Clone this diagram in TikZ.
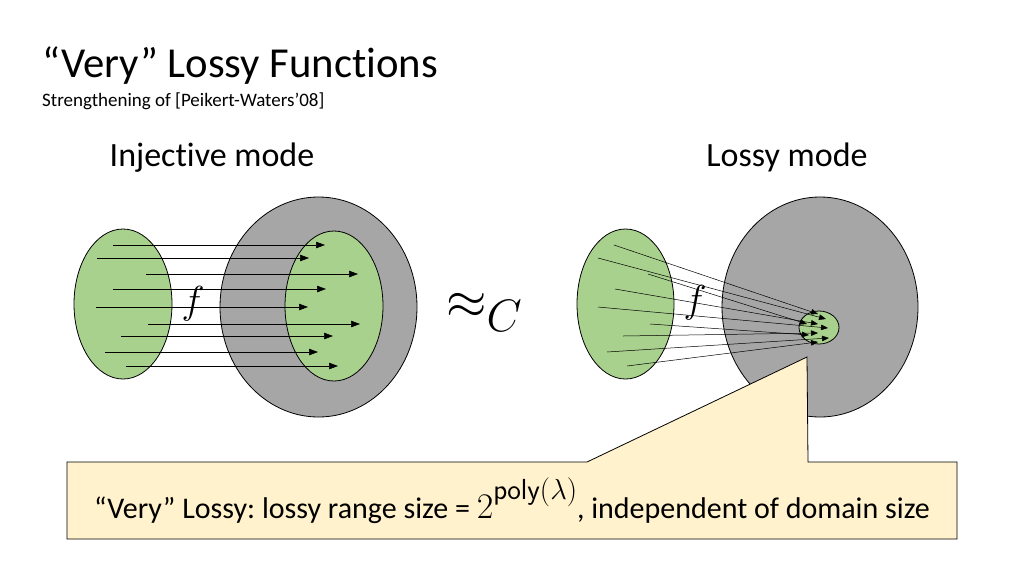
\RequirePackage{fix-cm}
\documentclass[tikz,border=0pt]{standalone}
\usepackage{fontspec}
\setmainfont[Ligatures=NoCommon]{Carlito}
\usetikzlibrary{arrows.meta,shapes.geometric}
\definecolor{setgreen}{HTML}{A9D18E}
\definecolor{setgray}{HTML}{A6A6A6}
\definecolor{calloutfill}{HTML}{FFF2CC}
\frenchspacing
\begin{document}
\begin{tikzpicture}[x=1pt,y=-1pt,
  greenset/.style={ellipse, draw=black, fill=setgreen, line width=0.8pt, inner sep=0pt},
  grayset/.style={ellipse, draw=black, fill=setgray, line width=0.8pt, inner sep=0pt},
  mapline/.style={line width=0.6pt, -{Triangle[length=9pt,width=6.5pt]}},
  lossline/.style={line width=0.5pt, -{Triangle[length=7pt,width=5.5pt]}},
  calloutbox/.style={draw=black, fill=calloutfill, line width=0.8pt},
  lbl/.style={inner sep=0pt}]
\useasboundingbox (0,0) rectangle (1024,576);

% titles
\node[lbl, anchor=base west, font=\fontsize{42.7}{50}\selectfont] (title) at (42,77) {“Very” Lossy Functions};
\node[lbl, anchor=base west, font=\fontsize{19}{22}\selectfont] (subtitle) at (42,106) {Strengthening of [Peikert-Waters’08]};
\node[lbl, anchor=base, font=\fontsize{34}{40}\selectfont] (injlbl) at (212,166) {Injective mode};
\node[lbl, anchor=base, font=\fontsize{34}{40}\selectfont] (losslbl) at (787,166) {Lossy mode};

% injective mode
\node[grayset, minimum width=197, minimum height=220] (rangeL) at (318.5,307) {};
\node[greenset, minimum width=98, minimum height=150] (domL) at (123,304) {};
\node[greenset, minimum width=98, minimum height=150] (imgL) at (334,306) {};
\foreach \ya/\xa/\xb in {245/113/325, 258/97/309, 274/146/358, 289/113/326, 307/96/308, 324/148/360, 336/121/333, 352/105/318, 366/126/338}
  \draw[mapline] (\xa,\ya) -- (\xb,\ya);
\node[lbl, font=\fontsize{39}{44}\selectfont] (fL) at (193,304) {$f$};

% approx
\node[lbl, anchor=base west, font=\fontsize{52}{60}\selectfont] (approx) at (446,318) {$\approx_{\scalebox{1.25}{$\scriptstyle C$}}$};

% lossy mode
\node[grayset, minimum width=196, minimum height=220] (rangeR) at (820,307) {};
\node[greenset, minimum width=97, minimum height=150] (domR) at (625.5,304) {};
\node[greenset, minimum width=40, minimum height=33] (imgR) at (819,327.5) {};
\foreach \xa/\ya/\xb/\yb in {614/245/818/314, 598/258/826/319, 648/274/807/324, 615/289/818/324, 598/307/828/328, 650/324/809/335, 623/336/818/333, 607/352/829/338, 627/366/818/342}
  \draw[lossline] (\xa,\ya) -- (\xb,\yb);
\node[lbl, font=\fontsize{39}{44}\selectfont] (fR) at (695,303) {$f$};

% callout
\coordinate (tip) at (807,357);
\draw[calloutbox] (67,462) -- (587,462) -- (tip) -- (808,462) -- (957,462) -- (957,539) -- (67,539) -- cycle;
\node[lbl, anchor=base, font=\fontsize{30}{34}\selectfont] (callouttext) at (512,518) {“Very” Lossy: lossy range size = {\fontsize{36}{40}\selectfont$2$}\raisebox{19pt}{\fontsize{29}{32}\selectfont$\mathsf{poly}(\lambda)$}, independent of domain size};
\end{tikzpicture}
\end{document}
